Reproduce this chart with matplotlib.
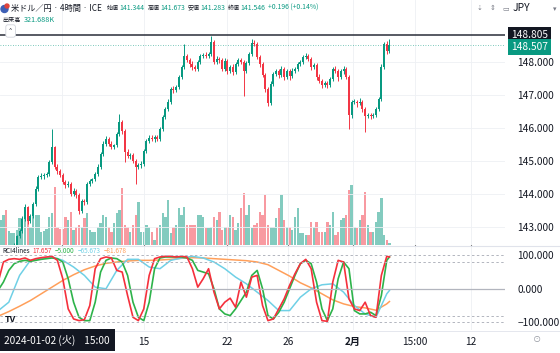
import numpy as np
import matplotlib
matplotlib.use("Agg")
import matplotlib.pyplot as plt
from matplotlib.patches import Ellipse
from matplotlib.transforms import blended_transform_factory

plt.rcParams['font.family'] = ['Noto Sans CJK JP', 'DejaVu Sans']

# --- data (4h candles, 2024-01-02 .. 2024-02-02) ---
first_open = 141.344
closes = [141.55, 141.72, 141.95, 141.85, 142.12, 142.25, 142.45, 142.72, 142.88, 143.24,
          143.60, 143.18, 143.33, 143.70, 144.15, 144.52, 144.55, 144.58, 144.60, 144.97,
          145.42, 144.82, 144.70, 144.58, 144.36, 144.27, 144.30, 144.00, 144.09, 143.97,
          143.48, 143.79, 143.76, 144.30, 144.39, 144.45, 144.61, 144.82, 145.21, 145.52,
          145.67, 145.52, 145.42, 145.48, 145.82, 146.18, 145.91, 145.27, 145.15, 145.18,
          145.00, 144.82, 144.88, 144.91, 145.30, 145.61, 145.70, 145.67, 145.73, 145.67,
          145.97, 146.33, 146.58, 146.79, 147.18, 147.15, 147.24, 147.55, 147.85, 148.18,
          148.06, 147.94, 147.85, 147.79, 148.00, 148.18, 148.21, 148.18, 148.24, 148.61,
          148.00, 148.09, 148.06, 147.79, 148.03, 147.73, 147.85, 147.70, 147.94, 148.06,
          148.00, 147.73, 147.97, 148.24, 148.58, 148.55, 148.15, 147.94, 147.61, 147.18,
          146.76, 147.33, 147.64, 147.73, 147.61, 147.79, 147.55, 147.73, 147.58, 147.73,
          147.79, 147.94, 148.00, 148.15, 148.18, 148.09, 147.85, 147.91, 147.55, 147.42,
          147.30, 147.36, 147.30, 147.48, 147.79, 147.73, 147.55, 147.73, 147.79, 147.55,
          146.39, 146.79, 146.79, 146.76, 146.79, 146.58, 146.36, 146.39, 146.36, 146.39,
          146.58, 146.88, 147.85, 148.55, 148.33, 148.507]
wick_hi = [0.12, 0.05, 0.08, 0.05, 0.06, 0.05, 0.07, 0.05, 0.06, 0.08,
           0.10, 0.05, 0.06, 0.05, 0.08, 0.06, 0.10, 0.06, 0.08, 0.06,
           0.55, 0.05, 0.08, 0.05, 0.06, 0.05, 0.08, 0.05, 0.10, 0.06,
           0.05, 0.06, 0.05, 0.06, 0.08, 0.05, 0.06, 0.10, 0.06, 0.08,
           0.08, 0.06, 0.10, 0.05, 0.06, 0.24, 0.06, 0.05, 0.08, 0.06,
           0.05, 0.06, 0.05, 0.08, 0.06, 0.05, 0.08, 0.10, 0.06, 0.05,
           0.06, 0.06, 0.05, 0.10, 0.06, 0.08, 0.05, 0.06, 0.06, 0.37,
           0.06, 0.05, 0.08, 0.05, 0.06, 0.05, 0.06, 0.08, 0.05, 0.18,
           0.06, 0.08, 0.05, 0.06, 0.08, 0.05, 0.06, 0.10, 0.05, 0.06,
           0.06, 0.05, 0.06, 0.06, 0.12, 0.08, 0.05, 0.06, 0.05, 0.06,
           0.05, 0.08, 0.06, 0.05, 0.06, 0.08, 0.05, 0.06, 0.05, 0.08,
           0.06, 0.06, 0.05, 0.06, 0.08, 0.05, 0.06, 0.05, 0.06, 0.08,
           0.05, 0.06, 0.05, 0.08, 0.06, 0.10, 0.05, 0.06, 0.08, 0.06,
           0.06, 0.06, 0.10, 0.05, 0.12, 0.06, 0.05, 0.06, 0.05, 0.06,
           0.06, 0.06, 0.08, 0.06, 0.10, 0.19]
wick_lo = [0.06, 0.05, 0.06, 0.08, 0.05, 0.06, 0.05, 0.06, 0.05, 0.06,
           0.06, 0.08, 0.05, 0.06, 0.05, 0.06, 0.05, 0.08, 0.06, 0.05,
           0.06, 0.06, 0.08, 0.05, 0.06, 0.10, 0.05, 0.06, 0.06, 0.08,
           0.10, 0.06, 0.08, 0.05, 0.06, 0.05, 0.06, 0.05, 0.06, 0.05,
           0.06, 0.08, 0.06, 0.05, 0.06, 0.05, 0.08, 0.30, 0.06, 0.08,
           0.06, 0.52, 0.06, 0.08, 0.05, 0.06, 0.05, 0.06, 0.08, 0.06,
           0.05, 0.06, 0.05, 0.06, 0.05, 0.08, 0.06, 0.05, 0.06, 0.05,
           0.06, 0.08, 0.10, 0.06, 0.05, 0.06, 0.05, 0.06, 0.05, 0.06,
           0.06, 0.05, 0.08, 0.06, 0.05, 0.10, 0.06, 0.08, 0.05, 0.06,
           0.06, 0.76, 0.06, 0.05, 0.06, 0.05, 0.06, 0.08, 0.06, 0.10,
           0.09, 0.06, 0.05, 0.06, 0.08, 0.05, 0.10, 0.06, 0.12, 0.06,
           0.05, 0.06, 0.05, 0.06, 0.05, 0.06, 0.08, 0.06, 0.10, 0.06,
           0.08, 0.06, 0.10, 0.06, 0.05, 0.06, 0.12, 0.06, 0.08, 0.06,
           0.42, 0.10, 0.06, 0.12, 0.06, 0.08, 0.48, 0.06, 0.08, 0.06,
           0.06, 0.06, 0.05, 0.06, 0.08, 0.05]
volume_k = [322, 300, 360, 420, 168, 144, 144, 180, 324, 324,
            456, 456, 216, 360, 360, 360, 156, 168, 192, 336,
            384, 696, 216, 192, 192, 336, 300, 396, 180, 216,
            240, 216, 324, 384, 180, 156, 156, 216, 264, 360,
            336, 216, 156, 264, 384, 420, 684, 240, 216, 156,
            240, 360, 516, 156, 156, 240, 216, 156, 60, 216,
            240, 384, 336, 540, 144, 216, 240, 444, 360, 456,
            240, 240, 240, 240, 360, 360, 336, 204, 204, 216,
            336, 300, 396, 180, 216, 216, 360, 336, 180, 264,
            444, 624, 360, 480, 204, 240, 264, 396, 360, 600,
            240, 216, 216, 324, 444, 600, 300, 216, 216, 180,
            336, 444, 144, 144, 120, 120, 276, 216, 276, 156,
            156, 156, 276, 240, 396, 120, 156, 300, 324, 360,
            660, 720, 216, 204, 300, 360, 636, 240, 156, 156,
            276, 396, 564, 120, 60, 24]

# RCI 4 lines (short/mid sampled every 2 bars, long ones every 4 bars)
rci_short = [18, 80, 88, 90, 88, 92, 85, 90, 93, 95, 97, 85, 30, -60, -90, -95, -92, -50, 60, 90,
             95, 92, 55, 50, -20, -85, -95, -60, 40, 90, 95, 97, 97, 95, 97, 95, 60, 5, 30, 60,
             -10, -60, -40, -28, -55, 20, -25, 35, 40, -50, -95, -90, -60, -30, 10, 45, 75, 88, 60, -40,
             -95, -97, 20, 85, 80, -30, -60, -65, -40, -80, -85, 40, 97, 95]
rci_mid = [-5, 20, 55, 75, 82, 85, 82, 85, 88, 90, 92, 90, 80, 30, -40, -85, -95, -95, -40, 50,
           85, 92, 90, 80, 40, -40, -85, -95, -40, 60, 92, 95, 95, 95, 95, 92, 85, 55, 50, 45,
           0, -60, -75, -80, -60, -35, -10, 40, 55, 0, -80, -90, -70, -40, 0, 40, 75, 85, 75, 20,
           -60, -95, -60, 30, 80, 60, -65, -75, -75, -70, -80, -20, 85, 95]
rci_long = [-66, -40, 40, 85, 90, 95, 85, 65, 40, 5, 0, 55, 88, 88, 65, 60, 85, 92, 97, 92,
            80, 60, 35, 15, -10, -35, -65, -65, -25, 0, 12, 15, -10, -50, -75, -85, -15, -5]
rci_longest = [-82, -68, -52, -35, -15, 5, 25, 42, 57, 68, 76, 80, 83, 85, 85, 86, 88, 91, 93, 92,
               90, 88, 86, 84, 80, 72, 55, 38, 18, 3, -15, -33, -45, -53, -57, -64, -45, -38]

time_ticks = [23.7, 54.1, 84.8, 107.4, 131.5, 154.4, 175.2]
time_labels = ['', '15', '22', '26', '2月', '15:00', '12']
price_ticks = [143, 144, 145, 146, 147, 148]
hline_price = 148.805
last_price = 148.507

UP = '#089981'
DOWN = '#F23645'
TXT = '#131722'
C_SHORT, C_MID, C_LONG, C_LONGEST = '#F5303C', '#2DB34A', '#6FD0E6', '#FF9F5A'

W, H = 560, 353
fig = plt.figure(figsize=(W / 100, H / 100), dpi=100)
fig.patch.set_facecolor('white')
renderer = fig.canvas.get_renderer()


def fx(x):
    return x / W


def fy(y):
    return 1 - y / H


def text_row(x, y, parts, **kw):
    # lay out coloured pieces one after another
    for s, c, size, g in parts:
        t = fig.text(fx(x), fy(y), s, color=c, fontsize=size, va='center', **kw)
        bb = t.get_window_extent(renderer)
        x = bb.x1 + g
    return x


n = len(closes)
idx = np.arange(n)
opens = np.array([first_open] + closes[:-1])
closes_a = np.array(closes)
up = closes_a >= opens
colors = np.where(up, UP, DOWN)
highs = np.maximum(opens, closes_a) + np.array(wick_hi)
lows = np.minimum(opens, closes_a) - np.array(wick_lo)

xlim = (0.74, 187.8)

# price pane with volume underneath
ax_v = fig.add_axes([0, fy(245), fx(505), 245 / H])
ax_p = fig.add_axes([0, fy(245), fx(505), 245 / H], sharex=ax_v)
ax_p.set_zorder(ax_v.get_zorder() + 1)
ax_p.patch.set_visible(False)

ax_v.bar(idx, volume_k, width=0.86, color=colors, alpha=0.5, linewidth=0)
ax_v.set_ylim(0, 2940)
ax_v.set_yticks([])
ax_v.set_xlim(*xlim)

ax_p.vlines(idx, lows, highs, colors=colors, linewidth=0.7)
body = np.maximum(np.abs(closes_a - opens), 0.02)
ax_p.bar(idx, body, bottom=np.minimum(opens, closes_a), width=0.74, color=colors, linewidth=0)
ax_p.set_ylim(142.455, 149.879)
ax_p.yaxis.tick_right()
ax_p.set_yticks(price_ticks)
ax_p.set_yticklabels([f'{p:.3f}' for p in price_ticks])
ax_p.tick_params(axis='y', length=0, pad=9, labelsize=7.3, labelcolor=TXT)
ax_p.tick_params(axis='x', length=0, labelbottom=False)
ax_p.set_xticks(time_ticks)
ax_p.grid(True, color='#eef0f4', linewidth=0.6)
ax_p.set_axisbelow(True)

ax_p.axhline(hline_price, color='#2a2e39', linewidth=1.1)
ax_p.axhline(last_price, color=UP, linewidth=0.6, linestyle=(0, (1, 2)), alpha=0.7)
tr = blended_transform_factory(ax_p.transAxes, ax_p.transData)
ax_p.text(1.012, hline_price, f'{hline_price:.3f}', transform=tr, color='white', fontsize=7.3,
          va='center', ha='left', clip_on=False,
          bbox=dict(boxstyle='square,pad=0.3', fc='#131722', ec='none'))
ax_p.text(1.012, last_price - 0.04, f'{last_price:.3f}', transform=tr, color='white', fontsize=7.3,
          va='center', ha='left', clip_on=False,
          bbox=dict(boxstyle='square,pad=0.3', fc=UP, ec='none'))

for ax in (ax_v, ax_p):
    for s in ax.spines.values():
        s.set_visible(False)

# RCI pane
ax_r = fig.add_axes([0, fy(330), fx(505), (330 - 246) / H], sharex=ax_v)
rci_idx2 = list(range(0, n - 1, 2)) + [n - 1]
rci_idx4 = list(range(0, n - 1, 4)) + [n - 1]
ax_r.plot(rci_idx4, rci_longest, color=C_LONGEST, linewidth=1.1)
ax_r.plot(rci_idx4, rci_long, color=C_LONG, linewidth=1.1)
ax_r.plot(rci_idx2, rci_mid, color=C_MID, linewidth=1.2)
ax_r.plot(rci_idx2, rci_short, color=C_SHORT, linewidth=1.2)
ax_r.axhline(0, color='#b2b5be', linewidth=0.9)
for lv in (100, 80, -80, -100):
    ax_r.axhline(lv, color='#b2b5be', linewidth=0.7, linestyle=(0, (2.5, 2.5)))
ax_r.set_ylim(-123, 127.8)
ax_r.set_xlim(*xlim)
ax_r.yaxis.tick_right()
ax_r.set_yticks([100, 0, -100])
ax_r.set_yticklabels(['100.000', '0.000', '\u2212100.000'])
ax_r.tick_params(axis='y', length=0, pad=9, labelsize=7.3, labelcolor=TXT)
ax_r.set_xticks(time_ticks)
ax_r.set_xticklabels(time_labels)
ax_r.tick_params(axis='x', length=0, pad=5, labelsize=7.3, labelcolor=TXT)
for lab in ax_r.get_xticklabels():
    if lab.get_text() == '2月':
        lab.set_fontweight('bold')
ax_r.grid(True, axis='x', color='#eef0f4', linewidth=0.6)
ax_r.set_axisbelow(True)
for s in ax_r.spines.values():
    s.set_visible(False)

# separators
fig.add_artist(plt.Line2D([0, 1], [fy(246), fy(246)], color='#e0e3eb', linewidth=0.8))
fig.add_artist(plt.Line2D([0, 1], [fy(331), fy(331)], color='#e0e3eb', linewidth=0.6))

# header
fig.add_artist(Ellipse((fx(4.5), fy(9)), 7 / W, 7 / H, color='#3d5fb5', transform=fig.transFigure))
fig.add_artist(Ellipse((fx(7), fy(6)), 4 / W, 4 / H, color='#e0433a', transform=fig.transFigure))
x_end = text_row(11, 8, [('米ドル／円 · 4時間 · ICE', TXT, 5.9, 5)])
text_row(x_end, 8, [('始値', TXT, 4.3, 0.5), ('141.344', UP, 4.9, 3),
                    ('高値', TXT, 4.3, 0.5), ('141.673', UP, 4.9, 3),
                    ('安値', TXT, 4.3, 0.5), ('141.283', UP, 4.9, 3),
                    ('終値', TXT, 4.3, 0.5), ('141.546', UP, 4.9, 3),
                    ('+0.196 (+0.14%)', UP, 4.9, 0)])
text_row(2, 20, [('出来高', TXT, 4.4, 3), ('321.688K', UP, 5.2, 0)])
fig.text(fx(8), fy(31), '⌃', color=TXT, fontsize=4.5, va='center',
         bbox=dict(boxstyle='round,pad=0.35', fc='white', ec='#d1d4dc', lw=0.6))

fig.text(fx(477), fy(8), '⇣', color='#787b86', fontsize=5, va='center')
fig.text(fx(490), fy(8), '⇕', color='#787b86', fontsize=5, va='center')
fig.text(fx(502), fy(8), '▭', color='#787b86', fontsize=5, va='center')
fig.text(fx(513), fy(8), 'JPY', color=TXT, fontsize=7.5, va='center')
fig.text(fx(553), fy(9), '▾', color='#787b86', fontsize=5, va='center')

# RCI legend
text_row(2, 251, [('RCI4lines', TXT, 4.6, 3), ('17.657', C_SHORT, 4.6, 3),
                  ('\u22125.000', C_MID, 4.6, 3), ('\u221265.673', C_LONG, 4.6, 3),
                  ('\u221281.678', C_LONGEST, 4.6, 0)])

fig.text(fx(5), fy(320), 'TV', color=TXT, fontsize=6.5, fontweight='bold', va='center')
fig.text(fx(4), fy(340), '2024-01-02 (火)    15:00', color='white', fontsize=7.3, va='center',
         bbox=dict(boxstyle='square,pad=0.55', fc='#131722', ec='none'))
fig.text(fx(533), fy(340), '⊙', color='#9598a1', fontsize=6, va='center')

fig.savefig('out.png', dpi=100, facecolor='white')
